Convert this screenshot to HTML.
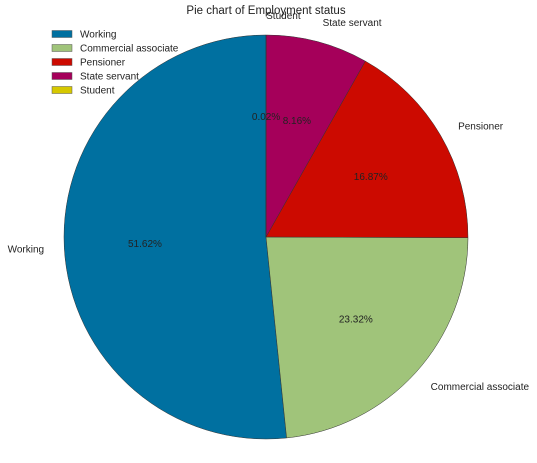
<!DOCTYPE html>
<html><head><meta charset="utf-8"><style>
body{margin:0;background:#fff;}
svg{display:block;font-family:"Liberation Sans",sans-serif;}
</style></head><body>
<svg id="chart" width="537" height="463" viewBox="0 0 537 463">
<text x="266" y="14" font-size="11.5" text-anchor="middle" fill="#222">Pie chart of Employment status</text>
<g id="slices"></g>
<g id="legend"></g>
</svg>
<script>
const categories = ["Working","Commercial associate","Pensioner","State servant","Student"];
const values = [51.62, 23.32, 16.87, 8.16, 0.02];
const pctLabels = ["51.62%","23.32%","16.87%","8.16%","0.02%"];
const colors = ["#0070a0","#a0c47a","#cc0a00","#a5005a","#d6c800"];
const NS="http://www.w3.org/2000/svg";
const cx=266, cy=237, r=202;
const total=values.reduce((a,b)=>a+b,0);
const slices=document.getElementById('slices');
const legend=document.getElementById('legend');
function pt(deg,rad){const a=deg*Math.PI/180;return [cx+rad*Math.cos(a), cy-rad*Math.sin(a)];}
let start=90;
values.forEach((v,i)=>{
  const sweep=v/total*360, end=start+sweep;
  const p0=pt(start,r), p1=pt(end,r);
  const large=sweep>180?1:0;
  const path=document.createElementNS(NS,'path');
  path.setAttribute('d',`M${cx},${cy} L${p0[0]},${p0[1]} A${r},${r} 0 ${large} 0 ${p1[0]},${p1[1]} Z`);
  path.setAttribute('fill',colors[i]);
  path.setAttribute('stroke','#333');
  path.setAttribute('stroke-width','0.5');
  
  
  slices.appendChild(path);
  const mid=start+sweep/2;
  const lp=pt(mid,r*1.1);
  const lt=document.createElementNS(NS,'text');
  lt.setAttribute('x',lp[0]);lt.setAttribute('y',lp[1]+4);
  lt.setAttribute('font-size','10');lt.setAttribute('fill','#222');
  lt.setAttribute('text-anchor',Math.cos(mid*Math.PI/180)>=0?'start':'end');
  lt.textContent=categories[i];
  
  
  slices.appendChild(lt);
  const pp=pt(mid,r*0.6);
  const pt2=document.createElementNS(NS,'text');
  pt2.setAttribute('x',pp[0]);pt2.setAttribute('y',pp[1]+4);
  pt2.setAttribute('font-size','10');pt2.setAttribute('fill','#222');
  pt2.setAttribute('text-anchor','middle');
  pt2.textContent=pctLabels[i];
  
  
  slices.appendChild(pt2);
  start=end;
});
categories.forEach((c,i)=>{
  const y=34+i*14;
  const g=document.createElementNS(NS,'g');
  
  
  const rc=document.createElementNS(NS,'rect');
  rc.setAttribute('x',52);rc.setAttribute('y',y-3.5);rc.setAttribute('width',20);rc.setAttribute('height',7);
  rc.setAttribute('fill',colors[i]);rc.setAttribute('stroke','#555');rc.setAttribute('stroke-width','0.5');
  g.appendChild(rc);
  const t=document.createElementNS(NS,'text');
  t.setAttribute('x',80);t.setAttribute('y',y+3.5);t.setAttribute('font-size','10');t.setAttribute('fill','#222');
  t.textContent=c;
  g.appendChild(t);
  legend.appendChild(g);
});
</script>
</body></html>
